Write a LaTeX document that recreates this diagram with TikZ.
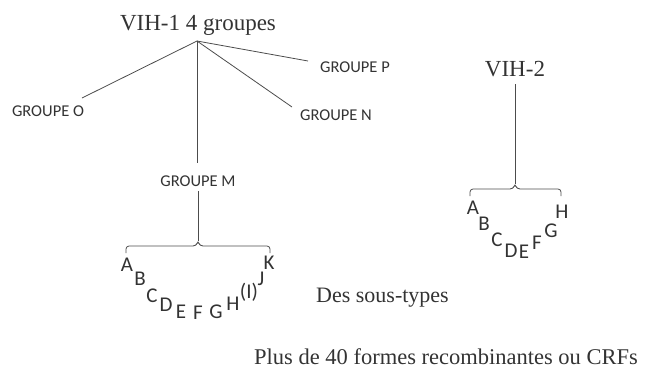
\documentclass[tikz,border=0pt]{standalone}
\usepackage{fontspec}
\setmainfont{Liberation Serif}
\newfontfamily\carl{Carlito}
\begin{document}
\begin{tikzpicture}[x=1pt,y=-1pt,
  ln/.style={draw=black!70, line width=0.8pt},
  serif/.style={inner sep=0pt, text=black!80, font=\fontsize{23}{23}\selectfont},
  grp/.style={inner sep=0pt, text=black!80, font=\carl\fontsize{16.5}{17}\selectfont},
  lt/.style={inner sep=0pt, text=black!80, font=\carl\fontsize{21}{21}\selectfont},
  brc/.style={draw=black!70, line width=0.8pt, rounded corners=3pt}]
\useasboundingbox (0,0) rectangle (657,370);
% VIH-1
\node[serif] (v1) at (198,25) {VIH-1 4 groupes};
\coordinate (root) at (197,41);
\node[grp] (go) at (48,111) {GROUPE O};
\node[grp] (gp) at (355,67) {GROUPE P};
\node[grp] (gn) at (336,115) {GROUPE N};
\node[grp] (gm) at (198,181) {GROUPE M};
\coordinate (eo) at (82,98);
\coordinate (ep) at (308,61);
\coordinate (en) at (292,107);
\draw[ln] (root) -- (eo);
\draw[ln] (root) -- (ep);
\draw[ln] (root) -- (en);
\draw[ln] (root) -- (197,163);
\coordinate (b1) at (198,241);
\draw[ln] (198,191) -- (b1);
\draw[brc] (126,253) -- (126,246) -- (196,246) -- (b1) -- (200,246) -- (270,246) -- (270,253);
\node[lt] (a1) at (127,265) {A};
\node[lt] (b1l) at (140,279) {B};
\node[lt] (c1) at (152,296) {C};
\node[lt] (d1) at (166,305) {D};
\node[lt] (e1) at (181,312) {E};
\node[lt] (f1) at (198,313) {F};
\node[lt] (g1) at (216,312) {G};
\node[lt] (h1) at (233,304) {H};
\node[lt] (i1) at (249,292) {(I)};
\node[lt] (j1) at (261,279) {J};
\node[lt] (k1) at (269,263) {K};
\node[inner sep=0pt, anchor=west, text=black!80, font=\fontsize{22}{22}\selectfont] (st) at (316,298) {Des sous-types};
\node[inner sep=0pt, text=black!80, font=\fontsize{22.5}{22.5}\selectfont] (crf) at (446,357) {Plus de 40 formes recombinantes ou CRFs};
% VIH-2
\node[serif] (v2) at (515,69) {VIH-2};
\coordinate (b2) at (515,184);
\draw[ln] (515,84) -- (b2);
\draw[brc] (470,196) -- (470,189) -- (513,189) -- (b2) -- (517,189) -- (561,189) -- (561,196);
\node[lt] (a2) at (473,208) {A};
\node[lt] (b2l) at (484,224) {B};
\node[lt] (c2) at (497,240) {C};
\node[lt] (d2) at (511,251) {D};
\node[lt] (e2) at (524,252) {E};
\node[lt] (f2) at (537,243) {F};
\node[lt] (g2) at (551,231) {G};
\node[lt] (h2) at (562,212) {H};
\end{tikzpicture}
\end{document}
